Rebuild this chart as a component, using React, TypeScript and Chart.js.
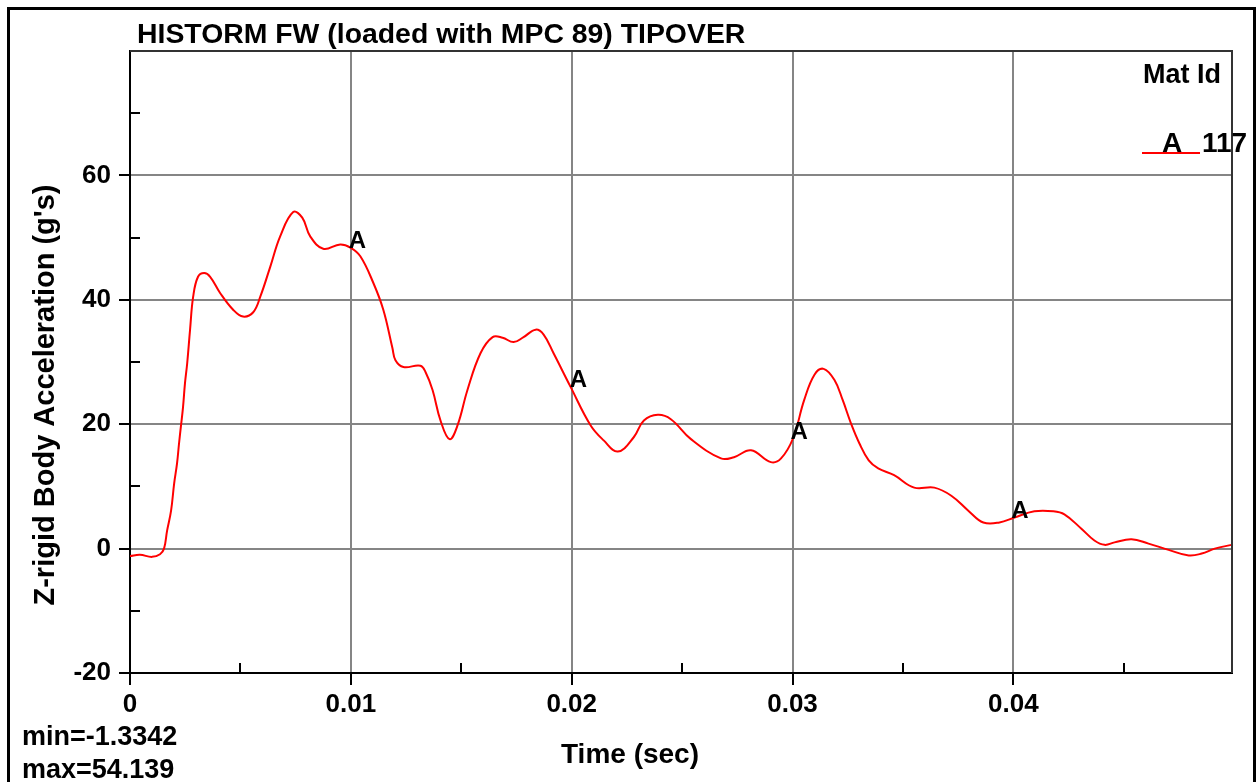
import React, { useEffect, useRef } from "react";
import { Chart, registerables } from "chart.js";

Chart.register(...registerables);

const TITLE = "HISTORM FW (loaded with MPC 89) TIPOVER";
const X_TITLE = "Time (sec)";
const Y_TITLE = "Z-rigid Body Acceleration (g's)";
const LEGEND_TITLE = "Mat Id";
const LEGEND_MARK = "A";
const LEGEND_ID = "117";
const MIN_TEXT = "min=-1.3342";
const MAX_TEXT = "max=54.139";

const times = [
  0, 0.00045, 0.001, 0.00136, 0.00154, 0.00168, 0.00186, 0.002, 0.00213, 0.00222,
  0.00231, 0.0024, 0.00249, 0.00259, 0.00272, 0.00286, 0.00308, 0.00336, 0.00363, 0.00408,
  0.00467, 0.00512, 0.00558, 0.0059, 0.00635, 0.0068, 0.00739, 0.0078, 0.00816, 0.00875,
  0.00952, 0.00998, 0.01043, 0.01102, 0.01147, 0.01188, 0.01202, 0.01238, 0.01315, 0.01338,
  0.0137, 0.01406, 0.01447, 0.01483, 0.01528, 0.01587, 0.01642, 0.01687, 0.01737, 0.01782,
  0.01837, 0.01873, 0.01918, 0.01995, 0.02086, 0.02145, 0.02209, 0.02281, 0.02327, 0.0239,
  0.02449, 0.0254, 0.02676, 0.02735, 0.02812, 0.02902, 0.02948, 0.03002, 0.03053, 0.031,
  0.03141, 0.0319, 0.03227, 0.03265, 0.03303, 0.03345, 0.03388, 0.0346, 0.03551, 0.03642,
  0.03719, 0.03796, 0.03864, 0.03937, 0.04005, 0.04095, 0.04181, 0.04231, 0.04308, 0.04367,
  0.04413, 0.04458, 0.04535, 0.04612, 0.04703, 0.04794, 0.04853, 0.04912, 0.04989,
];

const accel = [
  -1.2, -1.0, -1.33, -0.9, 0.0, 2.9, 6.1, 10.5, 13.7, 16.9,
  19.8, 22.7, 26.6, 29.8, 35.2, 40.5, 43.7, 44.3, 43.7, 41.1,
  38.4, 37.3, 38.0, 40.5, 45.3, 50.2, 54.1, 53.2, 50.2, 48.2,
  48.9, 48.4, 47.0, 42.7, 38.4, 32.3, 30.3, 29.2, 29.4, 28.4,
  25.5, 20.6, 17.6, 19.8, 25.5, 31.4, 34.0, 33.9, 33.2, 34.0,
  35.2, 34.4, 31.4, 26.0, 19.8, 17.4, 15.6, 17.9, 20.6, 21.5,
  20.8, 17.6, 14.5, 14.7, 15.8, 13.9, 14.5, 17.7, 23.9, 28.0,
  28.9, 27.1, 23.9, 20.1, 16.9, 14.2, 12.9, 11.8, 9.8, 9.8,
  8.5, 6.1, 4.2, 4.2, 5.0, 6.0, 6.0, 5.5, 3.2, 1.3,
  0.6, 1.0, 1.5, 0.8, -0.2, -1.1, -0.8, 0.0, 0.6,
];

// "A" curve markers
const markerTimes = [0.01, 0.02, 0.03, 0.04];
const markerValues = [48.4, 26.0, 17.7, 5.0];

// minor (inward) ticks
const xMinorTicks = [0.005, 0.015, 0.025, 0.035, 0.045];
const yMinorTicks = [-10, 10, 30, 50, 70];

const FONT = "'Liberation Sans', Arial, sans-serif";

const decorPlugin = {
  id: "decor",
  afterDraw(chart: any) {
    const ctx = chart.ctx as CanvasRenderingContext2D;
    const a = chart.chartArea;
    const xs = chart.scales.x;
    const ys = chart.scales.y;
    ctx.save();

    // outer border
    ctx.strokeStyle = "#000";
    ctx.lineWidth = 3;
    ctx.strokeRect(8.5, 8.5, 1246, 800);

    // frame top/right
    ctx.strokeStyle = "#333";
    ctx.lineWidth = 2;
    ctx.beginPath();
    ctx.moveTo(a.left, a.top);
    ctx.lineTo(a.right, a.top);
    ctx.lineTo(a.right, a.bottom);
    ctx.stroke();

    // minor ticks
    ctx.strokeStyle = "#000";
    ctx.lineWidth = 2;
    ctx.beginPath();
    for (const v of yMinorTicks) {
      const y = Math.round(ys.getPixelForValue(v));
      ctx.moveTo(a.left, y);
      ctx.lineTo(a.left + 10, y);
    }
    for (const v of xMinorTicks) {
      const x = Math.round(xs.getPixelForValue(v));
      ctx.moveTo(x, a.bottom);
      ctx.lineTo(x, a.bottom - 10);
    }
    ctx.stroke();

    ctx.fillStyle = "#000";
    // title
    ctx.font = `bold 28.4px ${FONT}`;
    ctx.textAlign = "left";
    ctx.textBaseline = "alphabetic";
    ctx.fillText(TITLE, 137, 43);

    // legend
    ctx.font = `bold 27px ${FONT}`;
    ctx.textAlign = "right";
    ctx.fillText(LEGEND_TITLE, 1221, 83);
    ctx.strokeStyle = "#ff0000";
    ctx.lineWidth = 2;
    ctx.beginPath();
    ctx.moveTo(1142, 153);
    ctx.lineTo(1200, 153);
    ctx.stroke();
    ctx.textAlign = "left";
    ctx.font = `bold 28px ${FONT}`;
    ctx.fillText(LEGEND_MARK, 1162, 152);
    ctx.fillText(LEGEND_ID, 1202, 152);

    // axis titles
    ctx.font = `bold 28px ${FONT}`;
    ctx.textAlign = "center";
    ctx.fillText(X_TITLE, 630, 763);
    ctx.save();
    ctx.font = `bold 29px ${FONT}`;
    ctx.translate(54, 395);
    ctx.rotate(-Math.PI / 2);
    ctx.fillText(Y_TITLE, 0, 0);
    ctx.restore();

    // min / max
    ctx.font = `bold 27px ${FONT}`;
    ctx.textAlign = "left";
    ctx.fillText(MIN_TEXT, 22, 745);
    ctx.fillText(MAX_TEXT, 22, 778);

    // curve markers
    const meta = chart.getDatasetMeta(1);
    ctx.font = `bold 24px ${FONT}`;
    ctx.textAlign = "left";
    for (const pt of meta.data) {
      ctx.fillText(LEGEND_MARK, pt.x - 2, pt.y);
    }
    ctx.restore();
  },
};

export default function App() {
  const ref = useRef<HTMLCanvasElement>(null);
  useEffect(() => {
    if (!ref.current) return;
    const gridGray = "#858585";
    const chart = new Chart(ref.current, {
      type: "line",
      data: {
        datasets: [
          {
            data: times.map((t, i) => ({ x: t, y: accel[i] })),
            borderColor: "#ff0000",
            borderWidth: 2,
            pointRadius: 0,
            tension: 0.4,
            fill: false,
          },
          {
            data: markerTimes.map((t, i) => ({ x: t, y: markerValues[i] })),
            showLine: false,
            pointRadius: 0,
            borderColor: "transparent",
          },
        ],
      },
      options: {
        animation: false,
        responsive: false,
        maintainAspectRatio: false,
        devicePixelRatio: 1,
        layout: { padding: { top: 51, right: 26, bottom: 0, left: 0 } },
        plugins: { legend: { display: false }, tooltip: { enabled: false }, title: { display: false } },
        scales: {
          x: {
            type: "linear",
            min: 0,
            max: 0.0499,
            afterFit: (s: any) => {
              s.height = 109;
            },
            ticks: {
              stepSize: 0.01,
              includeBounds: false,
              maxRotation: 0,
              autoSkip: false,
              padding: 4,
              color: "#000",
              font: { family: FONT, size: 26, weight: "bold" },
              callback: (v: any) => (Math.abs(v) < 1e-9 ? "0" : String(+Number(v).toFixed(2))),
            },
            grid: {
              color: (c: any) => (c.tick && Math.abs(c.tick.value) < 1e-9 ? "transparent" : gridGray),
              lineWidth: 2,
              tickColor: "#000",
              tickLength: 12,
              tickWidth: 2,
            },
            border: { display: true, color: "#000", width: 2 },
          },
          y: {
            type: "linear",
            min: -20,
            max: 80,
            afterFit: (s: any) => {
              s.width = 130;
            },
            ticks: {
              stepSize: 20,
              padding: 8,
              color: "#000",
              font: { family: FONT, size: 26, weight: "bold" },
              callback: (v: any) => (v === 80 ? "" : String(v)),
            },
            grid: {
              color: (c: any) => (c.tick && (c.tick.value === -20 || c.tick.value === 80) ? "transparent" : gridGray),
              lineWidth: 2,
              tickColor: (c: any) => (c.tick && c.tick.value === 80 ? "transparent" : "#000"),
              tickLength: 11,
              tickWidth: 2,
            },
            border: { display: true, color: "#000", width: 2 },
          },
        },
      },
      plugins: [decorPlugin],
    } as any);
    return () => chart.destroy();
  }, []);
  return (
    <div style={{ position: "fixed", left: 0, top: 0, width: 1258, height: 782, background: "#fff" }}>
      <canvas ref={ref} width={1258} height={782} style={{ display: "block", width: 1258, height: 782 }} />
    </div>
  );
}
